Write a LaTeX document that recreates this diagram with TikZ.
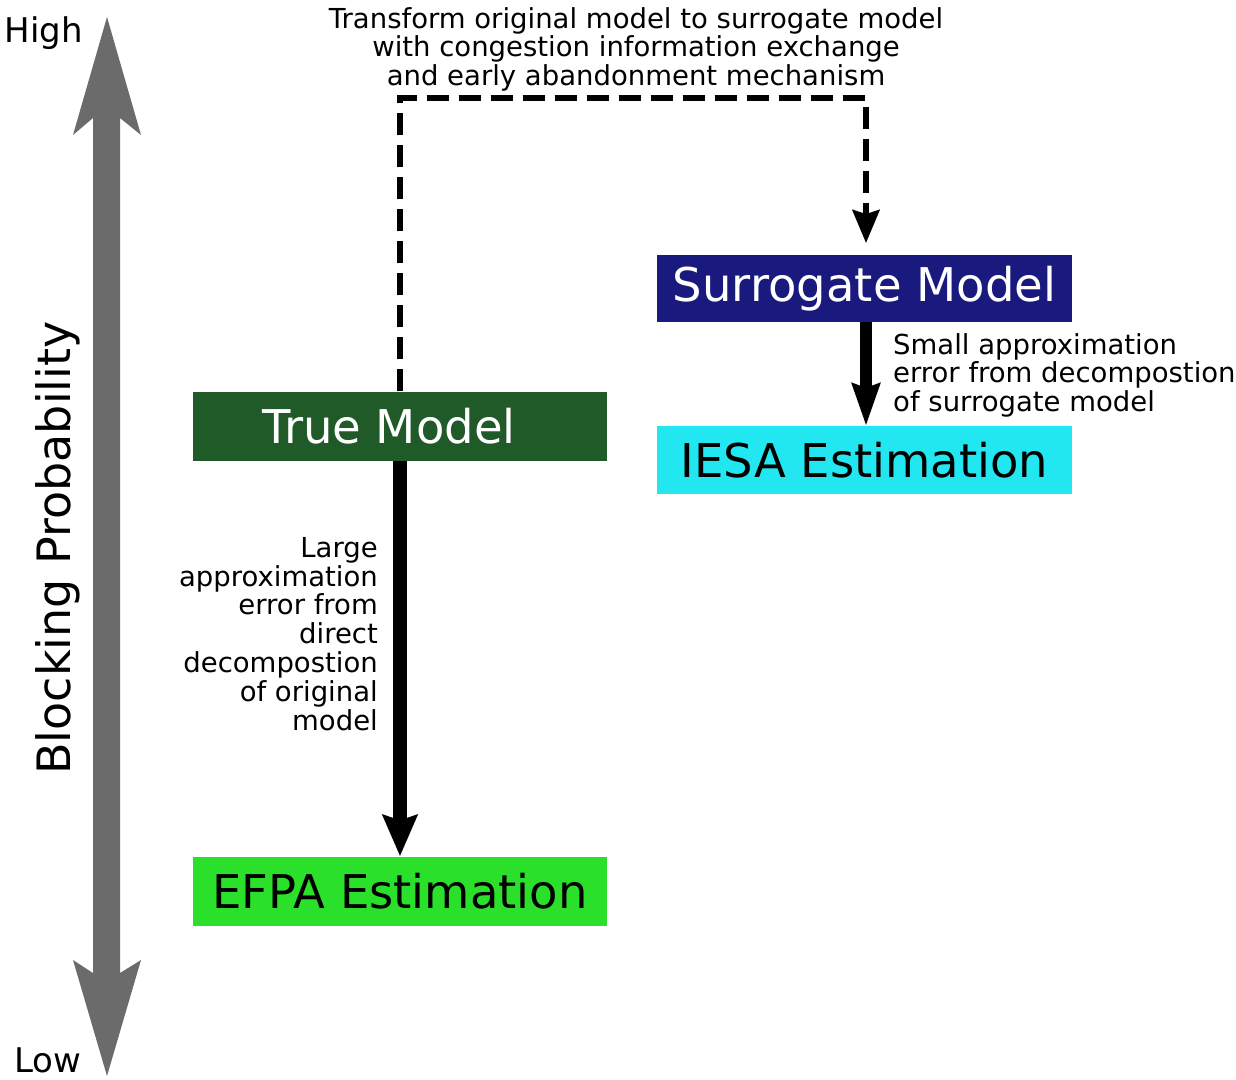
\documentclass[tikz,border=0pt]{standalone}
\usepackage{fontspec}
\setmainfont{DejaVu Sans}
\usetikzlibrary{arrows.meta}
\definecolor{axisgray}{HTML}{6B6B6B}
\definecolor{truegreen}{HTML}{1F5A28}
\definecolor{surnavy}{HTML}{1A1A7E}
\definecolor{iesacyan}{HTML}{22E6F0}
\definecolor{efpagreen}{HTML}{2AE02A}
\begin{document}
\begin{tikzpicture}[x=1pt,y=-1pt,
  box/.style={minimum width=414pt,minimum height=69pt,inner sep=0pt,font=\fontsize{46.5}{54}\selectfont},
  lbl/.style={inner sep=0pt,font=\fontsize{27.5}{28.8}\selectfont},
  bigarrow/.style={line width=14pt,-{Stealth[width=34pt,length=41pt,inset=5pt]}},
  smallarrow/.style={line width=12pt,-{Stealth[width=27pt,length=42pt,inset=4pt]}},
  dashconn/.style={line width=5.5pt,dash pattern=on 22pt off 10pt,-{Stealth[width=27pt,length=33pt,inset=4pt]}}
]
\useasboundingbox (0,0) rectangle (1236,1079);
% vertical axis double arrow
\fill[axisgray] (107,17) -- (141,135) -- (120,118) -- (120,973) -- (141,960) -- (107,1076)
  -- (73,960) -- (93,973) -- (93,118) -- (73,135) -- cycle;
\node[font=\fontsize{34}{40}\selectfont,inner sep=0pt] (high) at (44,33) {High};
\node[font=\fontsize{34}{40}\selectfont,inner sep=0pt] (low) at (48,1060) {Low};
\node[rotate=90,font=\fontsize{46}{54}\selectfont,inner sep=0pt] (bp) at (58,548) {Blocking Probability};
% boxes
\node[box,fill=truegreen,text=white] (tm) at (400,426) {True Model\kern22pt};
\node[box,fill=surnavy,text=white,minimum height=67pt,minimum width=415pt] (sm) at (864.5,288.5) {Surrogate Model};
\node[box,fill=iesacyan,text=black,minimum height=68pt,minimum width=415pt] (ie) at (864.5,460) {IESA Estimation};
\node[box,fill=efpagreen,text=black] (ef) at (400,891) {EFPA Estimation};
% top label
\node[lbl,anchor=north,align=center] (top) at (636,7) {Transform original model to surrogate model\\with congestion information exchange\\and early abandonment mechanism};
% connectors
\coordinate (c1) at (400,98);
\coordinate (c2) at (866,98);
\coordinate (c3) at (866,243);
\draw[dashconn] (tm.north) -- (c1) -- (c2) -- (c3);
\coordinate (s1) at (866,322);
\coordinate (s2) at (866,426);
\draw[smallarrow] (s1) -- (s2);
\draw[bigarrow] (tm.south) -- (ef.north);
% arrow labels
\node[lbl,anchor=north west,align=left] (slbl) at (893,333) {Small approximation\\error from decompostion\\of surrogate model};
\node[lbl,anchor=north east,align=right] (llbl) at (378,537) {Large\\approximation\\error from\\direct\\decompostion\\of original\\model};
\end{tikzpicture}
\end{document}
